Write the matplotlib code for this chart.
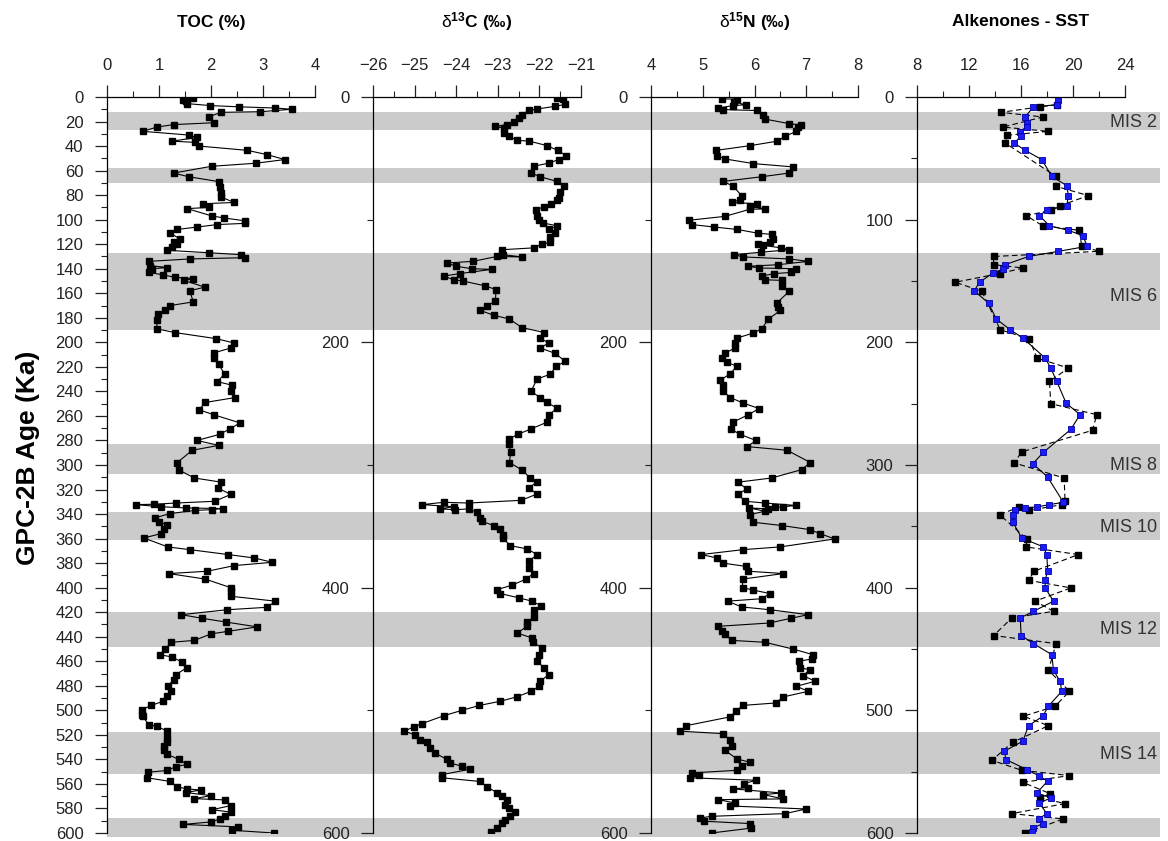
import matplotlib.pyplot as plt
import numpy as np
from matplotlib.ticker import MultipleLocator

plt.rcParams['font.family'] = 'Liberation Sans'
plt.rcParams['mathtext.fontset'] = 'custom'
plt.rcParams['mathtext.rm'] = 'Liberation Sans'
plt.rcParams['mathtext.it'] = 'Liberation Sans:italic'
plt.rcParams['mathtext.bf'] = 'Liberation Sans:bold'

# glacial stages, age in ka (top, bottom)
mis_bands = [(12, 27), (58, 70), (127, 190), (283, 307), (338, 361), (420, 448), (518, 552), (588, 603)]
mis_labels = ['MIS 2', 'MIS 6', 'MIS 8', 'MIS 10', 'MIS 12', 'MIS 14']
mis_label_age = [21, 163, 300, 351, 434, 536]

# (age ka, TOC %)
toc = np.array([
    (0.5, 1.66), (2.2, 1.47), (3.5, 1.51), (5.4, 1.54), (7, 1.99), (8, 2.54), (9, 3.24), (10, 3.56),
    (12, 2.95), (12.5, 2.2), (16, 1.96), (21, 2.05), (22.5, 1.28), (24.5, 0.96), (28, 0.69), (31, 1.57),
    (33, 1.73), (36, 1.25), (37, 1.7), (40, 1.77), (43.5, 2.7), (47, 3.08), (51, 3.42), (54, 2.86),
    (56.5, 2.01), (62, 1.28), (65, 1.57), (69, 2.15), (73, 2.18), (78, 2.2), (81.5, 2.2), (86, 2.44),
    (87, 1.85), (90, 1.96), (91, 1.54), (97, 2.02), (98.6, 2.25), (101, 2.66), (103, 2.66), (104, 2.12),
    (106, 1.73), (108, 1.35), (111, 1.22), (116, 1.41), (118, 1.28), (119.6, 1.35), (122, 1.25), (125, 1.16),
    (127, 1.96), (128.5, 2.57), (131, 2.66), (132, 1.6), (134, 0.8), (137.5, 0.83), (139, 1.16), (140, 0.87),
    (143, 0.8), (145, 1.08), (147, 1.3), (148, 1.66), (149.5, 1.48), (155, 1.88), (158, 1.59), (167, 1.66),
    (170, 1.22), (174, 1.12), (177, 0.98), (181.5, 0.96), (189, 0.96), (192, 1.3), (197, 2.1), (200.5, 2.44),
    (204.6, 2.38), (208.7, 2.05), (212.8, 2.05), (218, 2.15), (226, 2.26), (232, 2.12), (235, 2.41), (240, 2.39),
    (245, 2.47), (249, 1.89), (255, 1.77), (259, 2.05), (265.7, 2.56), (270.6, 2.36), (275, 2.17), (280, 1.73),
    (284, 2.15), (288, 1.64), (298, 1.35), (304, 1.38), (310.6, 1.68), (314, 2.2), (318.7, 2.13), (324, 2.38),
    (329.6, 2.07), (331, 1.32), (332, 0.9), (332.3, 0.55), (334, 1.03), (335, 1.51), (335.5, 2.23), (336.4, 2.02),
    (337, 1.7), (339.6, 1.21), (343, 0.93), (346.7, 1.0), (348.6, 1.16), (352, 1.1), (356, 1.03), (359.5, 0.71),
    (366.8, 1.17), (369, 1.59), (373, 2.33), (375.8, 2.83), (379.3, 3.18), (382, 2.45), (386.6, 1.93), (388.5, 1.19),
    (393, 1.89), (400, 2.38), (403, 2.38), (407, 2.38), (411, 3.24), (416, 3.08), (418, 2.31), (422, 1.43),
    (425, 1.83), (428, 2.28), (432, 2.89), (435.6, 2.32), (437.7, 2.0), (443, 1.68), (444.5, 1.24), (450, 1.12),
    (454.6, 1.01), (456.5, 1.25), (460.6, 1.44), (465.4, 1.53), (471, 1.32), (475, 1.28), (480.4, 1.17), (484.5, 1.23),
    (488.5, 1.16), (492.6, 1.08), (496, 0.85), (499.4, 0.67), (503.5, 0.67), (505, 0.69), (511.6, 0.8), (513, 0.96),
    (517, 1.16), (522.5, 1.16), (526, 1.15), (528.8, 1.09), (532, 1.1), (535.6, 1.15), (540, 1.38), (544, 1.54),
    (546, 1.32), (549, 1.16), (550.5, 0.79), (555, 0.77), (558, 1.22), (562.5, 1.35), (564, 1.54), (565, 1.8),
    (567, 1.51), (569.5, 2.0), (572, 1.68), (573, 2.26), (577.7, 2.38), (581, 2.02), (583, 2.39), (585.8, 2.26),
    (588.5, 2.18), (591, 2.0), (593, 1.46), (595, 2.52), (597.8, 2.41), (600, 3.21)])

# (age ka, d13C permil)
d13c = np.array([
    (0.8, -21.57), (2, -21.44), (6, -21.38), (7.6, -21.62), (9.8, -22.06), (11, -22.26), (14.4, -22.42), (17, -22.48),
    (20.7, -22.6), (22.5, -22.78), (24, -23.06), (25.3, -22.86), (29.3, -22.85), (32, -22.74), (35.3, -22.54), (36, -22.24),
    (39.7, -21.81), (43.5, -21.56), (47.8, -21.36), (51, -21.54), (53.8, -21.76), (56.5, -22.14), (62, -22.2), (65, -21.98),
    (68.8, -21.58), (72.8, -21.41), (77.7, -21.5), (82, -21.54), (84, -21.58), (87, -21.72), (89.7, -21.9), (91.8, -22.08),
    (96.7, -22.06), (100.5, -22.02), (102.7, -21.92), (105, -21.57), (108, -21.78), (111, -21.62), (114, -21.74), (118.5, -21.74),
    (120, -21.94), (123, -22.14), (124.5, -22.9), (128.5, -22.88), (130.4, -22.42), (130, -23.02), (134, -23.6), (135.3, -24.22),
    (138, -24.0), (140, -23.62), (140.5, -23.14), (144, -23.92), (146, -24.3), (149, -24.06), (150, -23.84), (154, -23.3),
    (157, -23.04), (166.6, -23.06), (170, -23.26), (174, -23.42), (178, -23.09), (181, -22.72), (188, -22.42), (192, -21.88),
    (196.5, -21.98), (200.5, -21.78), (204.6, -21.98), (209, -21.62), (215.5, -21.38), (219.6, -21.6), (226, -21.74), (230, -22.06),
    (240, -22.2), (245, -21.98), (249, -21.82), (253.5, -21.58), (259, -21.76), (265, -21.81), (270.6, -22.2), (275, -22.52),
    (279, -22.74), (283, -22.74), (289, -22.69), (298, -22.72), (304, -22.42), (310.6, -22.22), (314, -22.06), (318.7, -22.26),
    (323.6, -22.05), (328.8, -22.44), (331, -23.7), (330.4, -24.3), (332.3, -24.82), (334, -24.06), (335.8, -24.4), (336.4, -24.02),
    (335.8, -23.7), (338.5, -23.5), (343, -23.42), (346, -23.38), (349.4, -23.09), (352, -22.94), (356.7, -22.88), (359.5, -22.88),
    (365.7, -22.7), (368.4, -22.3), (373, -22.05), (378.5, -22.26), (384, -22.26), (388.5, -22.14), (393, -22.32), (398, -22.66),
    (401.6, -23.02), (404.8, -22.94), (408.4, -22.48), (411, -22.18), (414.6, -21.97), (418.4, -22.13), (424, -22.14), (428, -22.3),
    (431.5, -22.3), (437, -22.53), (441, -22.18), (444.5, -22.16), (449, -21.93), (454.6, -22.02), (460, -22.05), (465.4, -21.89),
    (471, -21.78), (476.3, -21.98), (480.4, -22.0), (484.5, -22.2), (489, -22.54), (492.6, -22.94), (496, -23.44), (500, -23.86),
    (504.3, -24.29), (510.8, -24.82), (513.5, -25.02), (517, -25.25), (520, -24.98), (524.4, -24.88), (526, -24.7), (530.7, -24.64),
    (534.7, -24.52), (540, -24.22), (543, -24.14), (545.6, -23.86), (548, -23.66), (552.4, -24.34), (555, -24.34), (558, -23.42),
    (562.5, -23.26), (567, -23.02), (570, -22.9), (572.8, -22.78), (577, -22.82), (579.6, -22.74), (583, -22.58), (586.4, -22.7),
    (589, -22.82), (592, -22.9), (596, -23.02), (599.4, -23.17)])

# (age ka, d15N permil)
d15n = np.array([
    (1.6, 5.37), (1.6, 5.66), (4.3, 5.61), (6.3, 5.84), (7, 5.59), (9, 5.3), (10.3, 5.4), (11, 6.04),
    (15, 6.17), (18, 6.2), (21.7, 6.67), (22.8, 6.89), (24.5, 6.85), (28, 6.81), (32, 6.59), (36, 6.44),
    (39.7, 5.91), (43.5, 5.26), (47.8, 5.27), (50.5, 5.43), (54.3, 5.98), (57, 6.75), (62, 6.67), (65, 6.14),
    (68.8, 5.4), (72.8, 5.59), (80.4, 5.75), (83.7, 5.72), (86, 5.56), (87, 6.04), (89, 5.91), (91.3, 6.2),
    (91.5, 5.91), (97.3, 5.43), (100.5, 4.73), (104, 4.79), (106, 5.22), (108, 5.67), (111, 6.06), (112, 6.33),
    (116, 6.35), (118.5, 6.3), (119.6, 6.07), (121, 6.17), (123, 6.52), (124.5, 6.67), (126.6, 6.12), (128.5, 5.61),
    (130.4, 5.78), (132, 6.67), (134, 7.04), (136.7, 6.46), (138, 5.88), (139.4, 6.09), (140, 6.81), (143, 6.7),
    (144, 6.38), (146, 6.14), (149, 6.2), (149.5, 6.54), (154, 6.54), (158.4, 6.67), (168, 6.43), (171, 6.46),
    (174, 6.5), (181, 6.27), (189, 6.14), (192.4, 5.98), (196.5, 5.66), (200.5, 5.62), (204.6, 5.62), (209, 5.43),
    (212.8, 5.37), (216, 5.46), (219.6, 5.66), (225.5, 5.53), (231, 5.34), (235, 5.39), (240, 5.4), (245, 5.53),
    (249.5, 5.78), (254, 6.09), (259, 5.88), (265, 5.59), (270.6, 5.54), (275, 5.72), (280, 6.03), (285, 5.86),
    (288, 6.63), (298, 7.08), (303.8, 6.91), (310.6, 6.33), (314, 5.68), (319.5, 5.85), (324, 5.68), (329.6, 5.82),
    (331, 6.2), (333, 6.8), (334, 6.56), (334.5, 6.4), (335.8, 6.27), (335, 5.9), (337.7, 6.2), (340.4, 5.91),
    (346.7, 5.98), (349.4, 6.54), (352.7, 7.07), (356, 7.27), (360.3, 7.55), (366.8, 6.49), (369, 5.78), (373, 4.97),
    (375.8, 5.28), (380, 5.39), (382.6, 5.83), (386.6, 5.88), (388.5, 6.56), (393, 5.77), (400, 5.77), (402, 5.98),
    (404.8, 6.3), (409, 6.14), (411, 5.48), (415.7, 5.75), (418, 6.3), (422, 7.04), (425, 6.7), (428.8, 6.29),
    (431.5, 5.3), (435.6, 5.37), (438, 5.43), (443, 5.56), (444.5, 6.2), (450, 6.74), (454.6, 7.13), (458, 7.12),
    (460, 6.86), (465.4, 6.88), (466.8, 7.07), (471.7, 6.94), (476.3, 7.17), (480.4, 6.81), (484.5, 7.04), (489, 6.56),
    (494, 6.41), (496, 5.77), (500.8, 5.64), (505.4, 5.52), (512.5, 4.68), (517, 4.56), (519, 5.4), (524.4, 5.52),
    (528.8, 5.56), (532.6, 5.43), (539.6, 5.66), (542.3, 5.91), (545.6, 5.75), (548.9, 5.66), (551, 4.79), (553, 4.92),
    (555, 4.76), (557, 6.03), (559.7, 5.8), (563, 5.88), (564, 5.58), (567.4, 6.52), (568.7, 6.17), (572.2, 6.56),
    (572.8, 5.3), (575.5, 5.62), (578, 5.53), (580.4, 7.0), (584.2, 6.59), (586.4, 5.17), (587.7, 4.95), (590.4, 5.02),
    (592.3, 5.91), (596, 5.94), (600, 5.17)])

# (age ka, SST degC), two alkenone calibrations
sst_blue = np.array([
    (2.7, 18.83), (6.3, 18.75), (8, 16.96), (16.3, 16.32), (21.2, 16.45), (24.5, 16.45), (28.8, 15.94), (32, 16.0),
    (37.5, 15.48), (43.5, 16.32), (51, 17.6), (64.7, 18.37), (72.3, 19.52), (80.4, 19.65), (88.6, 19.52), (92.4, 17.98),
    (96.7, 17.42), (105, 18.19), (108.7, 19.65), (113, 20.75), (121.7, 21.1), (125.8, 18.88), (130, 16.58), (136.7, 14.78),
    (140.2, 14.65), (143.5, 13.84), (151, 12.81), (158, 12.4), (168, 13.5), (181, 14.1), (189.7, 15.17), (196.5, 16.14),
    (212.8, 17.86), (221, 18.29), (231.8, 18.75), (249.5, 19.47), (259, 20.54), (271, 19.83), (289.6, 17.73), (298.9, 16.91),
    (309.7, 18.04), (330.4, 19.26), (332.3, 18.19), (334.2, 17.22), (335, 16.32), (336.9, 15.55), (340.4, 15.37), (346.7, 15.37),
    (359.5, 16.06), (366.8, 17.73), (373, 17.98), (386.6, 18.06), (393.4, 17.86), (400.2, 17.86), (411, 18.5), (419.3, 16.96),
    (424.7, 15.94), (439, 16.01), (445.6, 16.96), (454.6, 18.37), (467.3, 18.5), (476.3, 19.0), (484.5, 19.14), (496.7, 18.1),
    (504.8, 17.68), (512.5, 16.58), (525.2, 16.14), (533.4, 14.7), (540.2, 14.86), (548.3, 16.45), (553.2, 17.35), (557.8, 18.04),
    (567.3, 17.22), (571.4, 18.29), (575.5, 17.42), (584.2, 17.98), (588.5, 17.35), (592.3, 17.68), (595.9, 16.96), (599.4, 16.83)])

sst_black = np.array([
    (6.3, 18.75), (8, 17.47), (12.5, 14.45), (16.3, 17.68), (24.5, 14.6), (28, 18.11), (31.2, 14.96), (37.5, 14.78),
    (64.7, 18.7), (72.8, 18.7), (80.4, 21.18), (88.6, 19.0), (92.4, 18.29), (96.7, 16.4), (105, 17.68), (108.7, 20.49),
    (121.7, 20.67), (125.8, 22.03), (130, 13.89), (136.7, 13.89), (139.4, 16.19), (143.9, 14.35), (151, 10.94), (158.4, 12.99),
    (189.7, 14.4), (197.3, 16.65), (212.8, 17.22), (221, 19.65), (231.8, 18.19), (250, 18.29), (259, 21.83), (271.7, 21.5),
    (289.4, 16.04), (298.3, 15.48), (310.6, 19.32), (329.6, 19.39), (332.3, 19.14), (337, 16.65), (334.5, 15.81), (340.4, 14.35),
    (360.3, 16.45), (366.8, 16.4), (373, 20.42), (386.6, 17.0), (394, 16.58), (400.2, 19.83), (411, 17.09), (419.3, 18.5),
    (424.7, 15.3), (439, 13.89), (445.6, 18.7), (467.3, 18.11), (484.5, 19.73), (496.7, 18.62), (504.8, 16.19), (512.5, 18.11),
    (526, 15.37), (540.7, 13.76), (548.9, 16.06), (553.2, 19.73), (558.7, 16.14), (567.9, 18.24), (571.4, 17.47), (576, 19.39),
    (584.2, 15.3), (588.5, 19.26), (600, 16.32)])

W, H = 1168, 841
fig = plt.figure(figsize=(W / 100, H / 100), dpi=100)

top_px, bot_px = 97, 833
def box(x0, x1):
    return [x0 / W, 1 - bot_px / H, (x1 - x0) / W, (bot_px - top_px) / H]

# shaded glacial stages across all panels
bg = fig.add_axes(box(107, 1160), zorder=0)
bg.set_xlim(0, 1)
bg.set_ylim(600, 0)
bg.axis('off')
for a0, a1 in mis_bands:
    bg.axhspan(a0, a1, color='#cbcbcb', lw=0, clip_on=False)
for lab, age in zip(mis_labels, mis_label_age):
    bg.text(0.997, age, lab, ha='right', va='center', fontsize=13, color='#333333')

tick_col = '#222222'

def setup(ax, xlim, xmaj, xmin, ymaj, ymin, title):
    ax.set_facecolor('none')
    ax.set_xlim(*xlim)
    ax.set_ylim(600, 0)
    ax.xaxis.tick_top()
    for s in ('right', 'bottom'):
        ax.spines[s].set_visible(False)
    for s in ('left', 'top'):
        ax.spines[s].set_linewidth(0.9)
    ax.xaxis.set_major_locator(MultipleLocator(xmaj))
    ax.xaxis.set_minor_locator(MultipleLocator(xmin))
    ax.yaxis.set_major_locator(MultipleLocator(ymaj))
    ax.yaxis.set_minor_locator(MultipleLocator(ymin))
    ax.tick_params(which='major', direction='out', length=8.5, width=0.9, labelsize=12,
                   colors=tick_col, pad=8.5)
    ax.tick_params(which='minor', direction='out', length=4.5, width=0.8, colors=tick_col)
    ax.text(0.5, 1 + (top_px - 22) / (bot_px - top_px), title, transform=ax.transAxes,
            ha='center', va='center', fontsize=12.5, fontweight='bold')

sq = dict(marker='s', ms=4.8, lw=0.8, color='black')

ax1 = fig.add_axes(box(107, 315), zorder=2)
setup(ax1, (0, 4), 1, 0.5, 20, 10, 'TOC (%)')
ax1.plot(toc[:, 1], toc[:, 0], **sq)

ax2 = fig.add_axes(box(373, 581), zorder=2)
setup(ax2, (-26, -21), 1, 0.5, 200, 100, r'$\mathrm{δ}^{\mathbf{13}}\mathbf{C\ (‰)}$')
ax2.plot(d13c[:, 1], d13c[:, 0], **sq)

ax3 = fig.add_axes(box(651, 858), zorder=2)
setup(ax3, (4, 8), 1, 0.5, 200, 100, r'$\mathrm{δ}^{\mathbf{15}}\mathbf{N\ (‰)}$')
ax3.plot(d15n[:, 1], d15n[:, 0], **sq)

ax4 = fig.add_axes(box(917, 1125), zorder=2)
setup(ax4, (8, 24), 4, 2, 100, 50, 'Alkenones - SST')
ax4.plot(sst_black[:, 1], sst_black[:, 0], marker='s', ms=4.8, lw=0.8, color='black', ls=(0, (5, 3)))
ax4.plot(sst_blue[:, 1], sst_blue[:, 0], marker='s', ms=4.8, lw=0.8, color='black',
         mfc='#1c1cf5', mec='#0000a8', mew=0.6)

fig.text(28 / W, 1 - 458 / H, 'GPC-2B Age (Ka)', rotation=90, ha='center', va='center',
         fontsize=19, fontweight='bold')

fig.savefig('out.png', dpi=100)
